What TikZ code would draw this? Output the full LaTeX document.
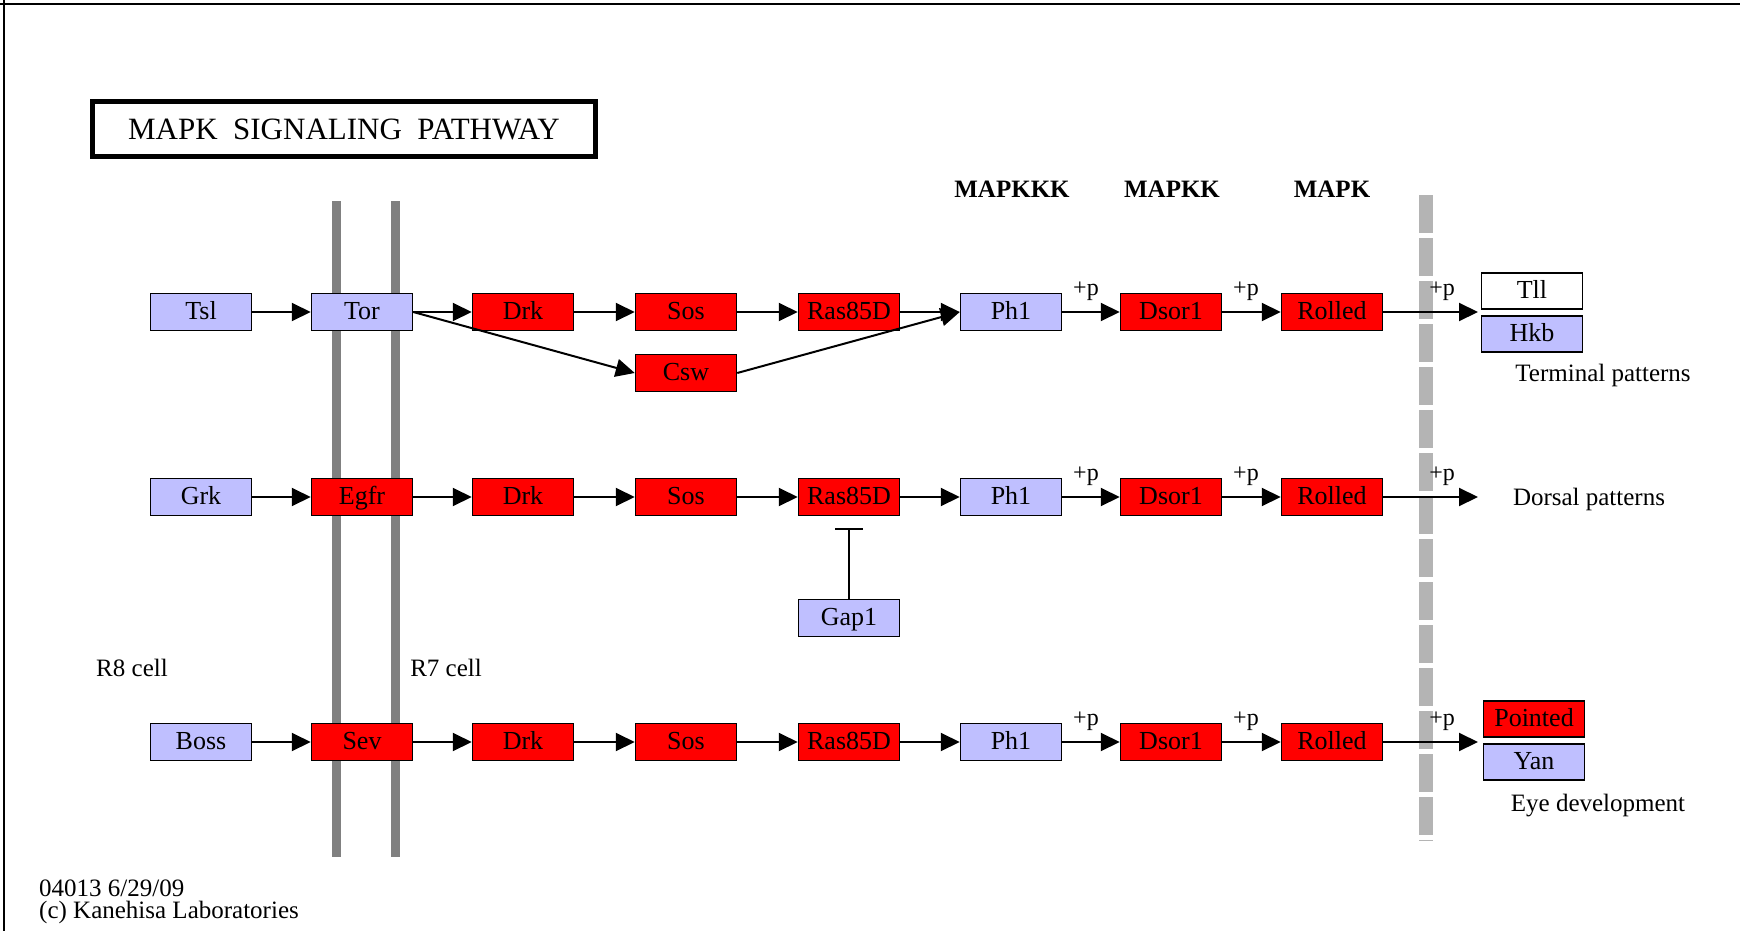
\documentclass[tikz,border=0pt]{standalone}
\usepackage{fontspec}
\setmainfont{Liberation Serif}
\usetikzlibrary{arrows.meta}
\definecolor{lav}{HTML}{BFBFFF}
\definecolor{kred}{HTML}{FF0000}
\definecolor{memb}{HTML}{808080}
\definecolor{dashg}{HTML}{B4B4B4}
\tikzset{
  gbox/.style={draw=black, line width=1.5pt, minimum width=101pt, minimum height=37pt, inner sep=0pt, text height=18pt, text depth=3pt, font=\fontsize{26}{28}\selectfont},
  lavbox/.style={gbox, fill=lav},
  redbox/.style={gbox, fill=kred},
  whitebox/.style={gbox, fill=white},
  arr/.style={line width=2pt, -{Triangle[length=19pt,width=18pt]}},
  inh/.style={line width=1.5pt, -{Bar[width=28pt,line width=2pt]}},
  lbl/.style={font=\fontsize{25}{28}\selectfont, inner sep=0pt},
  plbl/.style={font=\fontsize{24}{26}\selectfont, inner sep=0pt},
  hdr/.style={font=\fontsize{25}{28}\selectfont\bfseries, inner sep=0pt},
}
\begin{document}
\begin{tikzpicture}[x=1pt,y=-1pt]
\useasboundingbox (0,0) rectangle (1740,931);
\fill[white] (0,0) rectangle (1740,931);
% frame (top and left)
\draw[line width=2.5pt] (0,4) -- (1740,4);
\draw[line width=2.5pt] (4,0) -- (4,931);
% title
\node[draw=black, line width=5pt, minimum width=503pt, minimum height=55pt, inner sep=0pt, font=\fontsize{31}{34}\selectfont] (title) at (344,129) {MAPK\ \ SIGNALING\ \ PATHWAY};
% membranes
\draw[memb, line width=9pt] (336,201) -- (336,857);
\draw[memb, line width=9pt] (395,201) -- (395,857);
\draw[dashg, line width=14pt, dash pattern=on 38pt off 5pt] (1426,195) -- (1426,841);
% headers
\node[hdr] (h1) at (1012,189) {MAPKKK};
\node[hdr] (h2) at (1172,189) {MAPKK};
\node[hdr] (h3) at (1332,189) {MAPK};
% row 1
\node[lavbox] (tsl) at (201,312) {Tsl};
\node[lavbox] (tor) at (362,312) {Tor};
\node[redbox] (drk1) at (523,312) {Drk};
\node[redbox] (sos1) at (686,312) {Sos};
\node[redbox] (ras1) at (849,312) {Ras85D};
\node[lavbox] (ph1) at (1011,312) {Ph1};
\node[redbox] (dsor1) at (1171,312) {Dsor1};
\node[redbox] (rol1) at (1332,312) {Rolled};
\node[redbox] (csw) at (686,373) {Csw};
\node[whitebox, minimum height=36pt] (tll) at (1532,291) {Tll};
\node[lavbox, minimum height=36pt] (hkb) at (1532,334) {Hkb};
\coordinate (end1) at (1478,312);
% row 2
\node[lavbox] (grk) at (201,497) {Grk};
\node[redbox] (egfr) at (362,497) {Egfr};
\node[redbox] (drk2) at (523,497) {Drk};
\node[redbox] (sos2) at (686,497) {Sos};
\node[redbox] (ras2) at (849,497) {Ras85D};
\node[lavbox] (ph2) at (1011,497) {Ph1};
\node[redbox] (dsor2) at (1171,497) {Dsor1};
\node[redbox] (rol2) at (1332,497) {Rolled};
\node[lavbox] (gap) at (849,618) {Gap1};
\coordinate (inhend) at (849,528);
\coordinate (end2) at (1478,497);
% row 3
\node[lavbox] (boss) at (201,742) {Boss};
\node[redbox] (sev) at (362,742) {Sev};
\node[redbox] (drk3) at (523,742) {Drk};
\node[redbox] (sos3) at (686,742) {Sos};
\node[redbox] (ras3) at (849,742) {Ras85D};
\node[lavbox] (ph3) at (1011,742) {Ph1};
\node[redbox] (dsor3) at (1171,742) {Dsor1};
\node[redbox] (rol3) at (1332,742) {Rolled};
\node[redbox, minimum height=36pt] (pnt) at (1534,719) {Pointed};
\node[lavbox, minimum height=36pt] (yan) at (1534,762) {Yan};
\coordinate (end3) at (1478,742);
% arrows row 1
\draw[arr] (tsl) -- (tor);
\draw[arr] (tor) -- (drk1);
\draw[arr] (drk1) -- (sos1);
\draw[arr] (sos1) -- (ras1);
\draw[arr] (ras1) -- (ph1);
\draw[arr] (ph1) -- (dsor1);
\draw[arr] (dsor1) -- (rol1);
\draw[arr] (rol1) -- (end1);
\draw[arr] (tor.east) -- (csw.west);
\draw[arr] (csw.east) -- (ph1.west);
% arrows row 2
\draw[arr] (grk) -- (egfr);
\draw[arr] (egfr) -- (drk2);
\draw[arr] (drk2) -- (sos2);
\draw[arr] (sos2) -- (ras2);
\draw[arr] (ras2) -- (ph2);
\draw[arr] (ph2) -- (dsor2);
\draw[arr] (dsor2) -- (rol2);
\draw[arr] (rol2) -- (end2);
\draw[inh] (gap.north) -- (inhend);
% arrows row 3
\draw[arr] (boss) -- (sev);
\draw[arr] (sev) -- (drk3);
\draw[arr] (drk3) -- (sos3);
\draw[arr] (sos3) -- (ras3);
\draw[arr] (ras3) -- (ph3);
\draw[arr] (ph3) -- (dsor3);
\draw[arr] (dsor3) -- (rol3);
\draw[arr] (rol3) -- (end3);
% +p labels
\node[plbl] (p11) at (1086,291) {+p};
\node[plbl] (p12) at (1246,291) {+p};
\node[plbl] (p13) at (1442,291) {+p};
\node[plbl] (p21) at (1086,476) {+p};
\node[plbl] (p22) at (1246,476) {+p};
\node[plbl] (p23) at (1442,476) {+p};
\node[plbl] (p31) at (1086,721) {+p};
\node[plbl] (p32) at (1246,721) {+p};
\node[plbl] (p33) at (1442,721) {+p};
% text labels
\node[lbl] (term) at (1603,375) {Terminal patterns};
\node[lbl] (dors) at (1589,499) {Dorsal patterns};
\node[lbl] (eye) at (1598,806) {Eye development};
\node[lbl] (r8) at (132,668) {R8 cell};
\node[lbl] (r7) at (446,668) {R7 cell};
\node[lbl, anchor=west] (f1) at (39,888) {04013 6/29/09};
\node[lbl, anchor=west] (f2) at (39,912) {(c) Kanehisa Laboratories};
\end{tikzpicture}
\end{document}
